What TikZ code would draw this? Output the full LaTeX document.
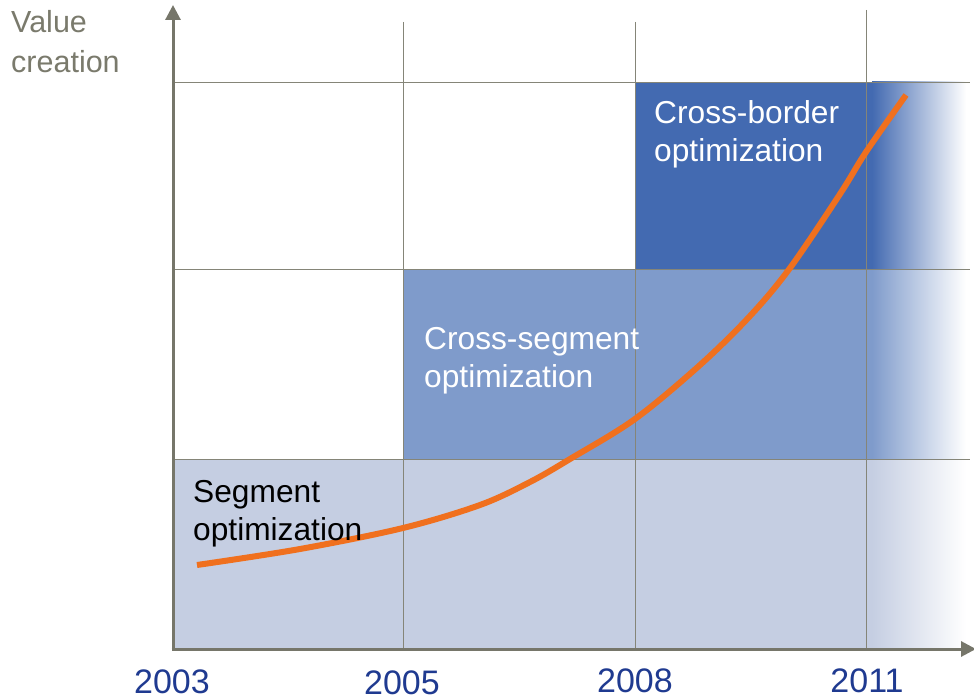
\documentclass[tikz,border=0pt]{standalone}
\usepackage{fontspec}
\setmainfont{Liberation Sans}
\usetikzlibrary{arrows.meta}
\definecolor{bandA}{HTML}{C5CEE2}
\definecolor{bandB}{HTML}{7F9BCB}
\definecolor{bandC}{HTML}{436AB1}
\definecolor{axisc}{HTML}{76766A}
\definecolor{gridc}{HTML}{858578}
\definecolor{yearc}{HTML}{1F3A90}
\definecolor{curvec}{HTML}{F0701E}
\definecolor{valc}{HTML}{7A7A6C}
\tikzset{
  gridline/.style={draw=gridc, line width=0.9pt},
  axisline/.style={draw=axisc, line width=3pt, -{Triangle[length=15pt,width=15pt]}},
  lbl/.style={anchor=base west, align=left, font=\fontsize{31.7}{38}\selectfont, inner sep=0pt},
  yearlbl/.style={anchor=base, font=\fontsize{34}{38}\selectfont, text=yearc, inner sep=0pt},
}
\begin{document}
\begin{tikzpicture}[x=1pt,y=-1pt]
\useasboundingbox (0,0) rectangle (974,700);
% bands
\fill[bandA] (173,459) rectangle (873,648);
\shade[left color=bandA, right color=white] (872,459) rectangle (966,648);
\fill[bandB] (403,269) rectangle (873,459);
\shade[left color=bandB, right color=white] (872,269) rectangle (966,459);
\fill[bandC] (635,82) rectangle (873,269);
\shade[left color=bandC, right color=white] (872,82) rectangle (966,269);
% grid
\draw[gridline] (173,82) -- (970,82);
\draw[gridline] (173,269) -- (970,269);
\draw[gridline] (173,459) -- (970,459);
\draw[gridline] (403,22) -- (403,648);
\draw[gridline] (635,22) -- (635,648);
\draw[gridline] (866,10) -- (866,648);
% axes
\coordinate (o) at (173,649);
\coordinate (ytip) at (173,5);
\coordinate (xtip) at (976,649);
\draw[axisline] (o) -- (ytip);
\draw[axisline] ([xshift=-1.5pt]o) -- (xtip);
% curve
\draw[curvec, line width=6pt] plot[smooth, tension=0.55] coordinates {
 (197,565) (300,549) (403,528) (480,505) (530,482) (570,459) (635,419)
 (700,365) (750,316) (790,268) (840,194) (866,152) (906,95)};
% labels
\node[lbl, text=valc, font=\fontsize{30.5}{40}\selectfont] (val) at (11,73) {Value\\creation};
\node[lbl, text=white] (cb) at (654,162) {Cross-border\\optimization};
\node[lbl, text=white] (cs) at (424,387) {Cross-segment\\optimization};
\node[lbl, text=black] (sg) at (193,540) {Segment\\optimization};
\node[yearlbl] (y1) at (172,693) {2003};
\node[yearlbl] (y2) at (402,694) {2005};
\node[yearlbl] (y3) at (635,692) {2008};
\node[yearlbl] (y4) at (867,692) {2011};
\end{tikzpicture}
\end{document}
